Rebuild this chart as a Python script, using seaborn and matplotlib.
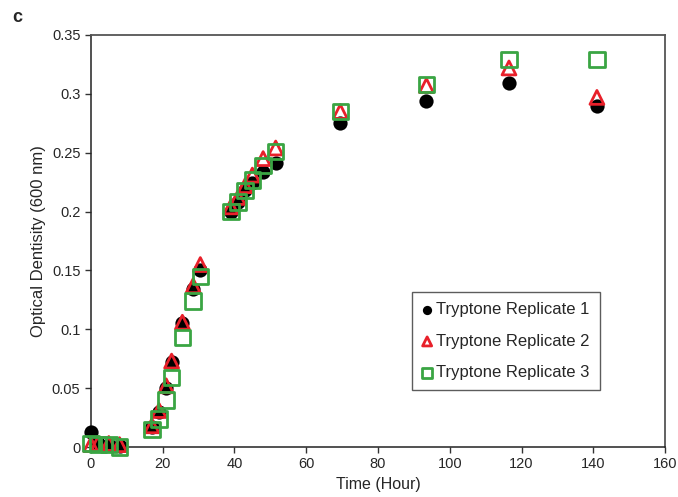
import pandas as pd
import seaborn as sns
import matplotlib.pyplot as plt

# time points (hours)
time = [0, 2, 5, 8, 17, 19, 21, 22.5, 25.5, 28.5, 30.5, 39, 41, 43, 45, 48, 51.5, 69.5, 93.5, 116.5, 141]

rep1 = [0.013, 0.003, 0.002, 0.001, 0.017, 0.030, 0.050, 0.072, 0.105, 0.134, 0.150,
        0.200, 0.208, 0.218, 0.224, 0.234, 0.241, 0.275, 0.294, 0.309, 0.290]
rep2 = [0.002, 0.003, 0.003, 0.002, 0.018, 0.031, 0.052, 0.073, 0.106, 0.137, 0.155,
        0.204, 0.212, 0.222, 0.231, 0.245, 0.254, 0.285, 0.307, 0.322, 0.297]
rep3 = [0.003, 0.002, 0.002, 0.000, 0.015, 0.024, 0.040, 0.059, 0.093, 0.124, 0.145,
        0.200, 0.208, 0.218, 0.227, 0.239, 0.251, 0.285, 0.308, 0.329, 0.329]

labels = ["Tryptone Replicate 1", "Tryptone Replicate 2", "Tryptone Replicate 3"]

df = pd.DataFrame({
    'time': time * 3,
    'od': rep1 + rep2 + rep3,
    'series': [labels[0]] * len(time) + [labels[1]] * len(time) + [labels[2]] * len(time),
})

sns.set_style('ticks')
plt.rcParams['font.family'] = ['Liberation Sans', 'DejaVu Sans']

fig = plt.figure(figsize=(6.78, 4.97), dpi=100)
ax = fig.add_axes([0.134, 0.1006, 0.847, 0.829])

sns.scatterplot(data=df[df.series == labels[0]], x='time', y='od', ax=ax,
                marker='o', s=105, color='black', edgecolor='black', linewidth=0,
                label=labels[0], zorder=3, clip_on=False)
sns.scatterplot(data=df[df.series == labels[1]], x='time', y='od', ax=ax,
                marker='^', s=100, facecolor='none', edgecolor='#e8202a', linewidth=2,
                label=labels[1], zorder=4, clip_on=False)
sns.scatterplot(data=df[df.series == labels[2]], x='time', y='od', ax=ax,
                marker='s', s=125, facecolor='none', edgecolor='#3aa543', linewidth=2,
                label=labels[2], zorder=5, clip_on=False)

ax.set_xlim(0, 160)
ax.set_ylim(0, 0.35)
ax.set_xticks(range(0, 161, 20))
ax.set_yticks([0, 0.05, 0.1, 0.15, 0.2, 0.25, 0.3, 0.35])
ax.set_yticklabels(['0', '0.05', '0.1', '0.15', '0.2', '0.25', '0.3', '0.35'])
ax.tick_params(labelsize=10.5, length=4, width=1, color='#333333', direction='out')
ax.set_xlabel('Time (Hour)', fontsize=11.5)
ax.set_ylabel('Optical Dentisity (600 nm)', fontsize=12)

for side in ['left', 'bottom']:
    ax.spines[side].set_color('#222222')
    ax.spines[side].set_linewidth(1.1)
for side in ['top', 'right']:
    ax.spines[side].set_visible(True)
    ax.spines[side].set_color('#555555')
    ax.spines[side].set_linewidth(1.3)

leg = ax.legend(loc='lower left', bbox_to_anchor=(0.545, 0.117), fontsize=12,
                frameon=True, fancybox=False, edgecolor='#333333', handletextpad=0.25,
                handlelength=0.6, labelspacing=1.0, borderpad=0.6, markerscale=0.65)
leg.get_frame().set_linewidth(1.0)

fig.text(0.018, 0.965, 'c', fontsize=13, fontweight='bold', va='center')

plt.savefig('out.png', dpi=100)
